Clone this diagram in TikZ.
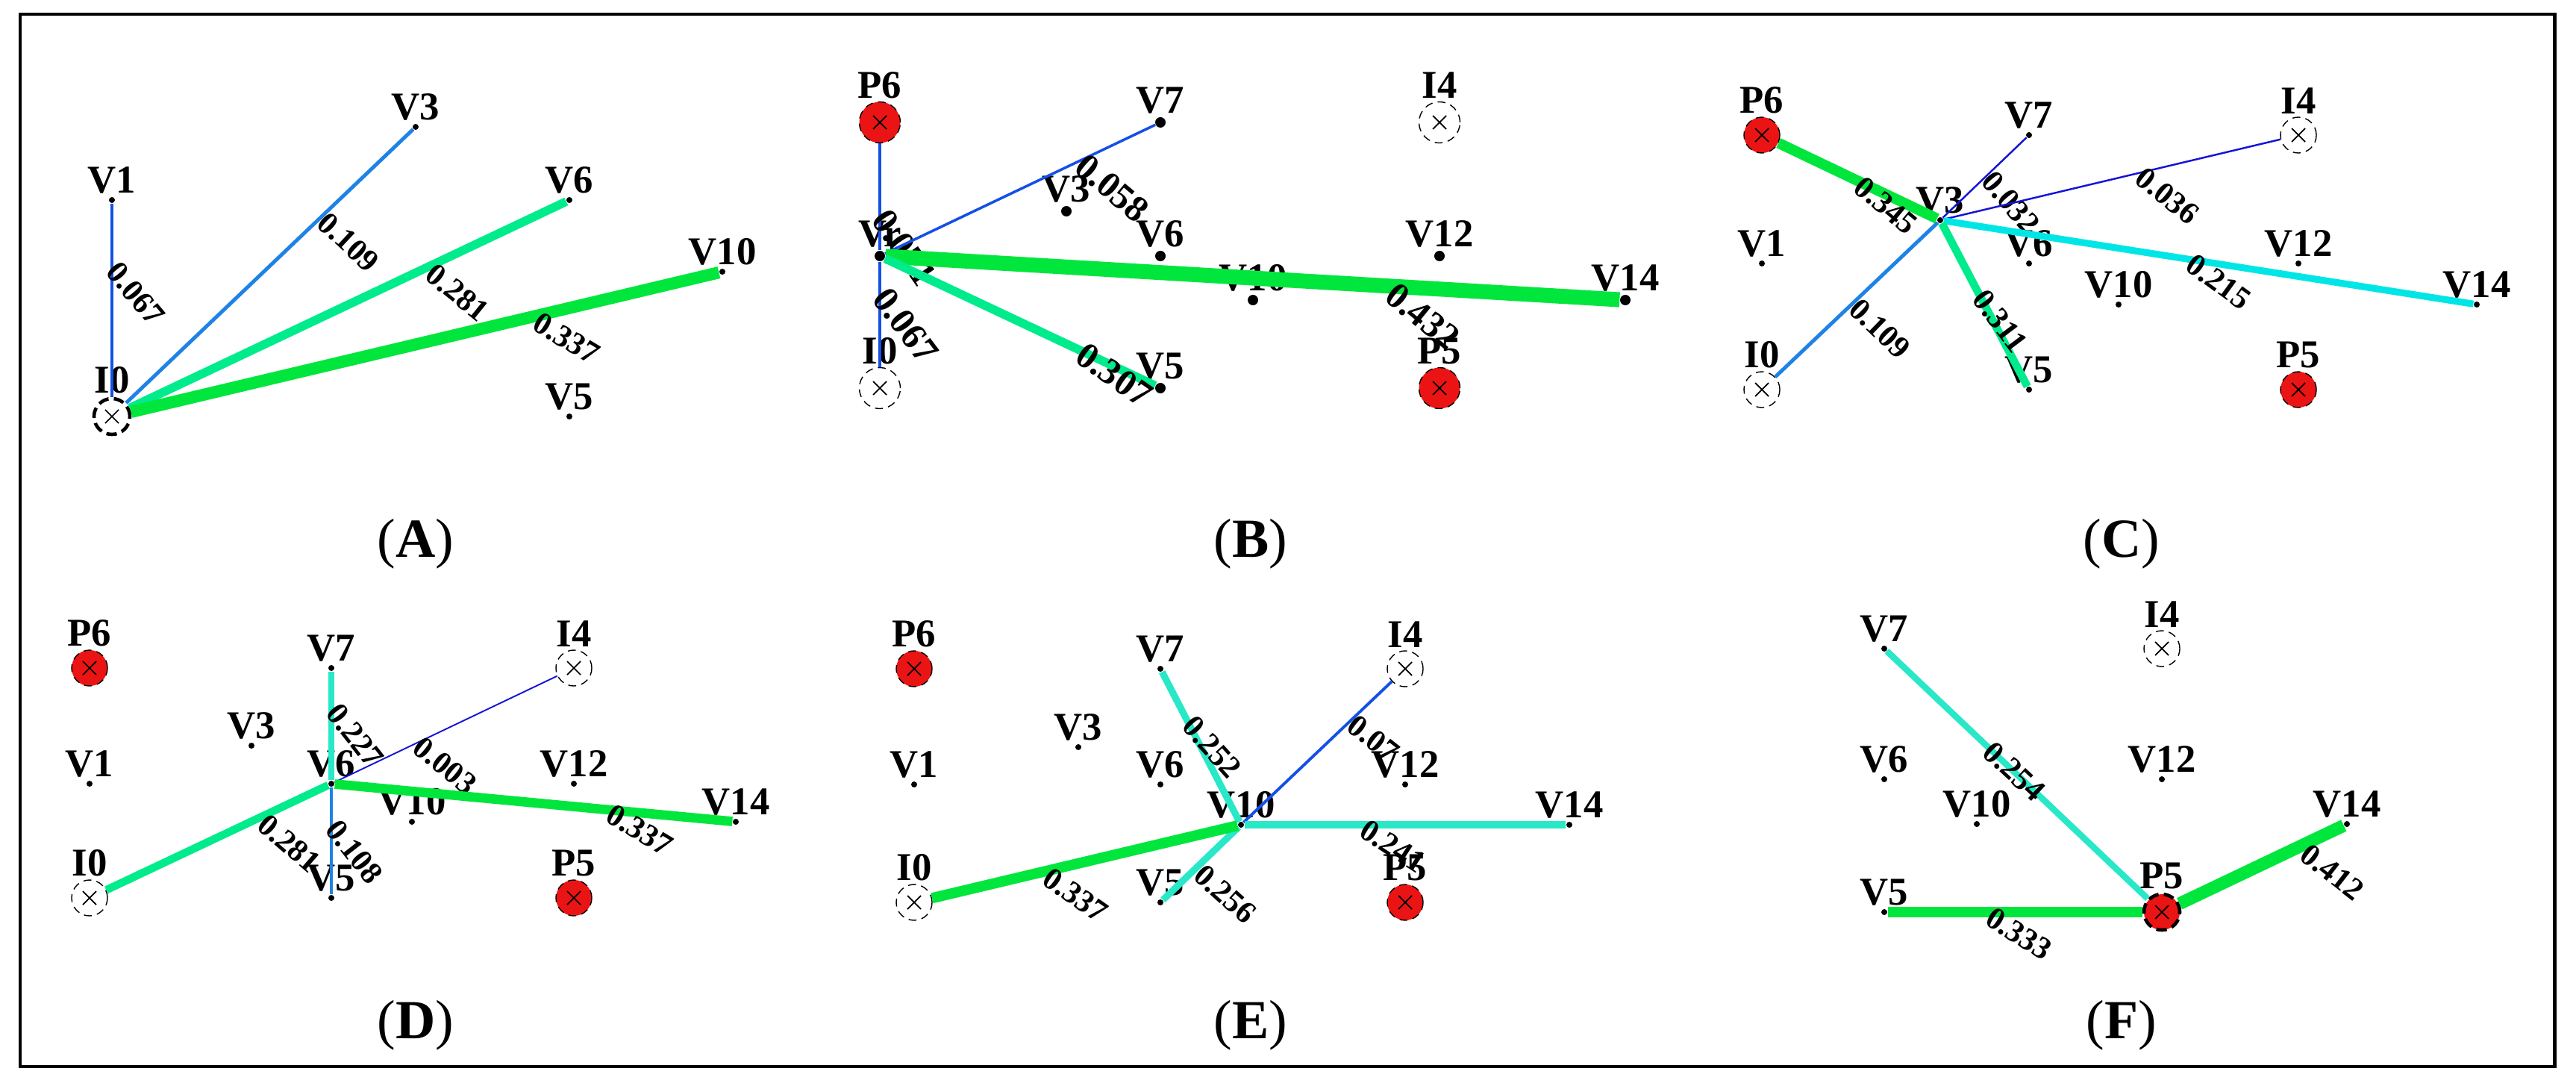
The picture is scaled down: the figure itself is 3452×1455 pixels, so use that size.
\documentclass[tikz,border=0pt]{standalone}
\usepackage{fontspec}
\setmainfont{Liberation Serif}
\definecolor{dblue}{RGB}{20,20,215}
\definecolor{mblue}{RGB}{20,80,230}
\definecolor{lblue}{RGB}{30,130,230}
\definecolor{ecyan}{RGB}{0,230,230}
\definecolor{turq}{RGB}{40,232,200}
\definecolor{spring}{RGB}{0,235,140}
\definecolor{egreen}{RGB}{0,230,60}
\definecolor{pred}{RGB}{235,20,20}
\begin{document}
\begin{tikzpicture}[x=0.01cm,y=-0.01cm,
 lbl/.style={font=\fontsize{15}{15}\selectfont\bfseries,inner sep=1pt},
 vd/.style={circle,fill=black,inner sep=0pt,minimum size=0.08cm,label={[lbl]above:#1}},
 vdb/.style={circle,fill=black,inner sep=0pt,minimum size=0.14cm,label={[lbl]above:#1}},
 inode/.style={circle,draw,densely dashed,fill=white,minimum size=0.48cm,inner sep=0pt,
   path picture={\draw[solid,line width=0.5pt]
     ([shift={(-0.09cm,-0.09cm)}]path picture bounding box.center) -- ([shift={(0.09cm,0.09cm)}]path picture bounding box.center)
     ([shift={(-0.09cm,0.09cm)}]path picture bounding box.center) -- ([shift={(0.09cm,-0.09cm)}]path picture bounding box.center);},
   label={[lbl]above:#1}},
 pnode/.style={inode=#1,fill=pred},
 big/.style={minimum size=0.55cm},
 sel/.style={line width=1.3pt,dash pattern=on 4pt off 2pt},
 e/.style 2 args={draw=#1,line width=#2},
 wl/.style={anchor=west,inner sep=0pt,font=\fontsize{12}{12}\selectfont\bfseries},
 wlb/.style={anchor=west,inner sep=0pt,font=\fontsize{14}{14}\selectfont\bfseries},
 capt/.style={font=\fontsize{21}{21}\selectfont}]
\useasboundingbox (0,0) rectangle (3452,1455);
\draw[line width=1.4pt] (27,19) rectangle (3423,1429);
% captions
\node[capt] (capA) at (557,729) {(\textbf{A})};
\node[capt] (capB) at (1676,729) {(\textbf{B})};
\node[capt] (capC) at (2843,729) {(\textbf{C})};
\node[capt] (capD) at (557,1374) {(\textbf{D})};
\node[capt] (capE) at (1676,1374) {(\textbf{E})};
\node[capt] (capF) at (2843,1374) {(\textbf{F})};
% ---------- A
\node[inode=I0,sel] (aI0) at (150,558) {};
\node[vd=V1] (aV1) at (150,268) {};
\node[vd=V3] (aV3) at (557,170) {};
\node[vd=V6] (aV6) at (763,268) {};
\node[vd=V10] (aV10) at (968,364) {};
\node[vd=V5] (aV5) at (763,558) {};
\draw[e={mblue}{1pt}] (aI0) -- node[wl,pos=0.68,rotate=-50]{0.067} (aV1);
\draw[e={lblue}{1.4pt}] (aI0) -- node[wl,pos=0.68,rotate=-43]{0.109} (aV3);
\draw[e={spring}{3.3pt}] (aI0) -- node[wl,pos=0.68,rotate=-39]{0.281} (aV6);
\draw[e={egreen}{4.6pt}] (aI0) -- node[wl,pos=0.68,rotate=-31]{0.337} (aV10);
% ---------- B
\node[pnode=P6,big] (bP6) at (1179,164) {};
\node[vdb=V7] (bV7) at (1555,164) {};
\node[inode=I4,big] (bI4) at (1929,164) {};
\node[vdb=V3] (bV3) at (1429,283) {};
\node[vdb=Vr] (bVr) at (1179,343) {};
\node[vdb=V6] (bV6) at (1555,343) {};
\node[vdb=V12] (bV12) at (1929,343) {};
\node[vdb=V10] (bV10) at (1679,402) {};
\node[vdb=V14] (bV14) at (2178,402) {};
\node[inode=I0,big] (bI0) at (1179,520) {};
\node[vdb=V5] (bV5) at (1555,520) {};
\node[pnode=P5,big] (bP5) at (1929,520) {};
\draw[e={mblue}{1pt}] (bVr) -- node[wlb,pos=0.35,rotate=-55]{0.071} (bP6);
\draw[e={mblue}{1pt}] (bVr) -- node[wlb,pos=0.72,rotate=-40]{0.058} (bV7);
\draw[e={egreen}{5.7pt}] (bVr) -- node[wlb,pos=0.68,rotate=-39]{0.432} (bV14);
\draw[e={spring}{3.3pt}] (bVr) -- node[wlb,pos=0.71,rotate=-35]{0.307} (bV5);
\draw[e={mblue}{1pt}] (bVr) -- node[wlb,pos=0.28,rotate=-53]{0.067} (bI0);
% ---------- C
\node[pnode=P6] (cP6) at (2361,181) {};
\node[vd=V7] (cV7) at (2719,181) {};
\node[inode=I4] (cI4) at (3080,181) {};
\node[vd=V3] (cV3) at (2600,295) {};
\node[vd=V1] (cV1) at (2361,353) {};
\node[vd=V6] (cV6) at (2719,353) {};
\node[vd=V12] (cV12) at (3080,353) {};
\node[vd=V10] (cV10) at (2839,408) {};
\node[vd=V14] (cV14) at (3319,408) {};
\node[inode=I0] (cI0) at (2361,522) {};
\node[vd=V5] (cV5) at (2719,522) {};
\node[pnode=P5] (cP5) at (3080,522) {};
\draw[e={egreen}{4pt}] (cV3) -- node[wl,pos=0.52,rotate=-40]{0.345} (cP6);
\draw[e={dblue}{0.7pt}] (cV3) -- node[wl,pos=0.53,rotate=-49]{0.032} (cV7);
\draw[e={dblue}{0.7pt}] (cV3) -- node[wl,pos=0.58,rotate=-39]{0.036} (cI4);
\draw[e={ecyan}{2.6pt}] (cV3) -- node[wl,pos=0.46,rotate=-36]{0.215} (cV14);
\draw[e={spring}{3pt}] (cV3) -- node[wl,pos=0.41,rotate=-53]{0.311} (cV5);
\draw[e={lblue}{1.4pt}] (cV3) -- node[wl,pos=0.52,rotate=-44]{0.109} (cI0);
% ---------- D
\node[pnode=P6] (dP6) at (120,895) {};
\node[vd=V7] (dV7) at (444,895) {};
\node[inode=I4] (dI4) at (769,895) {};
\node[vd=V3] (dV3) at (337,999) {};
\node[vd=V1] (dV1) at (120,1050) {};
\node[vd=V6] (dV6) at (444,1050) {};
\node[vd=V12] (dV12) at (769,1050) {};
\node[vd=V10] (dV10) at (552,1101) {};
\node[vd=V14] (dV14) at (986,1101) {};
\node[inode=I0] (dI0) at (120,1203) {};
\node[vd=V5] (dV5) at (444,1203) {};
\node[pnode=P5] (dP5) at (769,1203) {};
\draw[e={turq}{2.4pt}] (dV6) -- node[wl,pos=0.69,rotate=-52]{0.227} (dV7);
\draw[e={dblue}{0.55pt}] (dV6) -- node[wl,pos=0.37,rotate=-39]{0.003} (dI4);
\draw[e={egreen}{3.6pt}] (dV6) -- node[wl,pos=0.68,rotate=-31]{0.337} (dV14);
\draw[e={lblue}{1.3pt}] (dV6) -- node[wl,pos=0.33,rotate=-52]{0.108} (dV5);
\draw[e={spring}{3pt}] (dV6) -- node[wl,pos=0.31,rotate=-41]{0.281} (dI0);
% ---------- E
\node[pnode=P6] (eP6) at (1225,896) {};
\node[vd=V7] (eV7) at (1555,896) {};
\node[inode=I4] (eI4) at (1883,896) {};
\node[vd=V3] (eV3) at (1445,1001) {};
\node[vd=V1] (eV1) at (1225,1051) {};
\node[vd=V6] (eV6) at (1555,1051) {};
\node[vd=V12] (eV12) at (1883,1051) {};
\node[vd=V10] (eV10) at (1663,1105) {};
\node[vd=V14] (eV14) at (2103,1105) {};
\node[inode=I0] (eI0) at (1225,1209) {};
\node[vd=V5] (eV5) at (1555,1209) {};
\node[pnode=P5] (eP5) at (1883,1209) {};
\draw[e={turq}{2.6pt}] (eV10) -- node[wl,pos=0.69,rotate=-48]{0.252} (eV7);
\draw[e={mblue}{1.1pt}] (eV10) -- node[wl,pos=0.72,rotate=-38]{0.07} (eI4);
\draw[e={turq}{2.6pt}] (eV10) -- node[wl,pos=0.36,rotate=-33]{0.241} (eV14);
\draw[e={turq}{2.6pt}] (eV10) -- node[wl,pos=0.56,rotate=-42]{0.256} (eV5);
\draw[e={egreen}{4pt}] (eV10) -- node[wl,pos=0.64,rotate=-35]{0.337} (eI0);
% ---------- F
\node[vd=V7] (fV7) at (2525,869) {};
\node[inode=I4] (fI4) at (2897,869) {};
\node[vd=V6] (fV6) at (2525,1044) {};
\node[vd=V12] (fV12) at (2897,1044) {};
\node[vd=V10] (fV10) at (2649,1104) {};
\node[vd=V14] (fV14) at (3145,1104) {};
\node[vd=V5] (fV5) at (2525,1222) {};
\node[pnode=P5,sel] (fP5) at (2897,1222) {};
\draw[e={turq}{2.4pt}] (fP5) -- node[wl,pos=0.62,rotate=-43]{0.254} (fV7);
\draw[e={egreen}{4pt}] (fP5) -- node[wl,pos=0.62,rotate=-32]{0.333} (fV5);
\draw[e={egreen}{4.8pt}] (fP5) -- node[wl,pos=0.73,rotate=-38]{0.412} (fV14);
\end{tikzpicture}
\end{document}
